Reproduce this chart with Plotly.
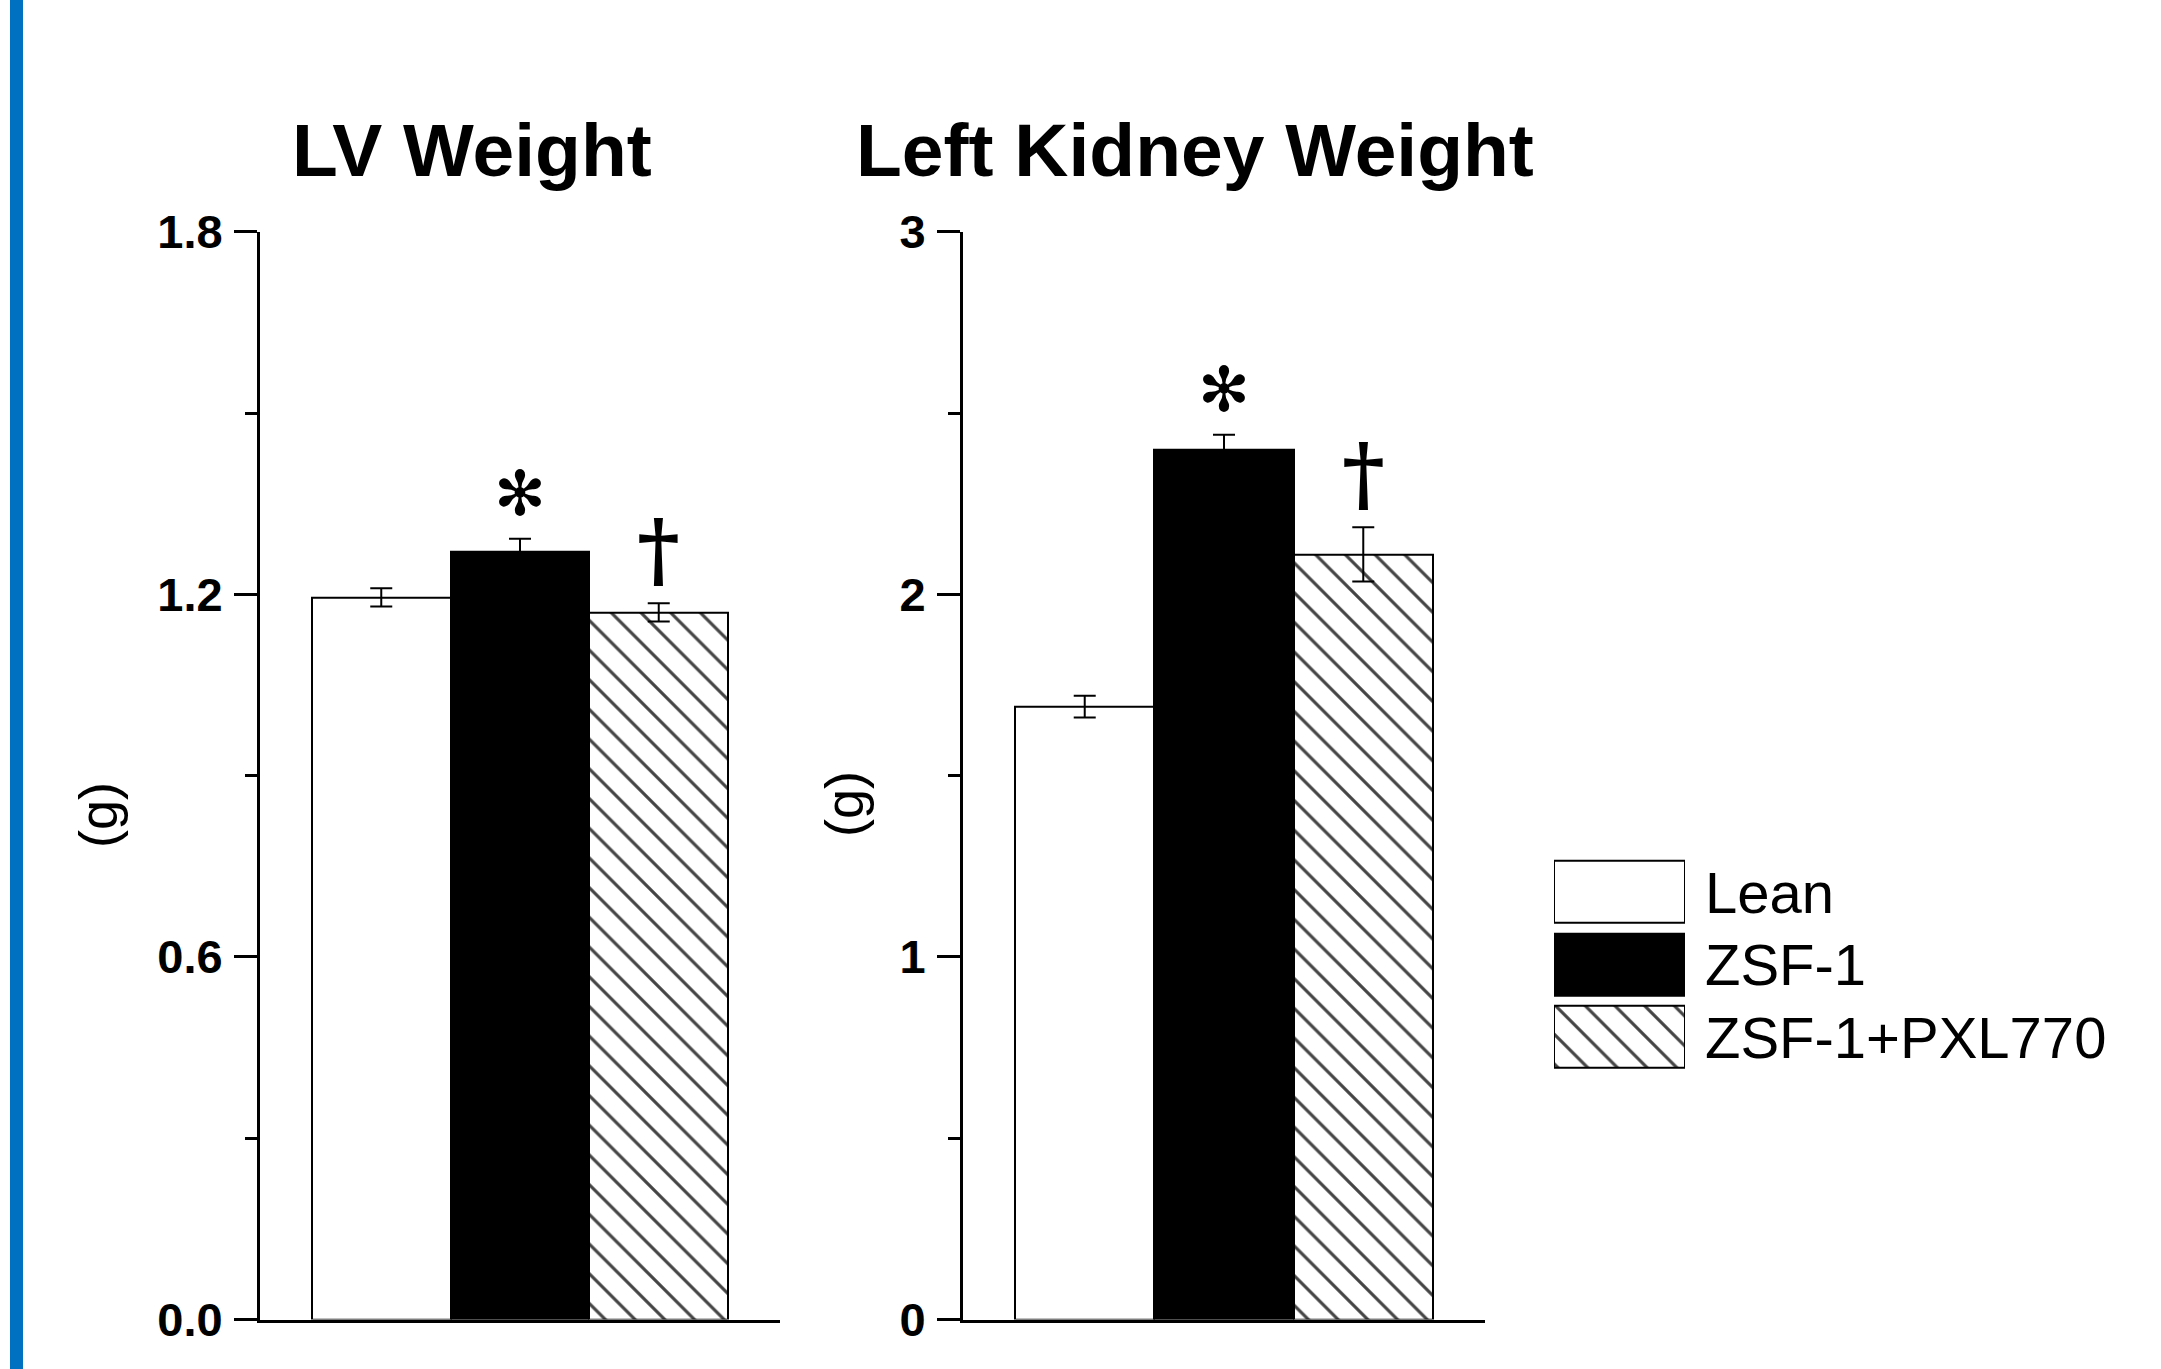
import plotly.graph_objects as go

W, H = 2161, 1369

# ---------------- data ----------------
groups = ["Lean", "ZSF-1", "ZSF-1+PXL770"]
lv_mean = [1.195, 1.27, 1.17]
lv_sem = [0.015, 0.022, 0.015]
kid_mean = [1.69, 2.40, 2.11]
kid_sem = [0.03, 0.04, 0.075]
lv_tickvals = [0, 0.6, 1.2, 1.8]
lv_ticktext = ["0.0", "0.6", "1.2", "1.8"]
kid_tickvals = [0, 1, 2, 3]
kid_ticktext = ["0", "1", "2", "3"]
sig_star = ["", "✻", ""]
sig_dagger = ["", "", "†"]
titles = ["LV Weight", "Left Kidney Weight"]
y_title = "(g)"

# ---------------- style ----------------
fills = ["white", "black", "white"]
patterns = ["", "", "\\"]
FONT = "Liberation Sans"


def px(x):
    return x / W


def py(y):
    return 1 - y / H


marker = dict(
    color=fills,
    line=dict(color="black", width=2),
    pattern=dict(shape=patterns, fgcolor="black", fgopacity=1, size=21, solidity=0.15),
)

fig = go.Figure()
fig.add_trace(go.Bar(
    x=groups, y=lv_mean, marker=marker, xaxis="x", yaxis="y",
    error_y=dict(type="data", array=lv_sem, visible=True, thickness=2, width=11, color="black"),
    showlegend=False,
))
fig.add_trace(go.Bar(
    x=groups, y=kid_mean, marker=marker, xaxis="x2", yaxis="y2",
    error_y=dict(type="data", array=kid_sem, visible=True, thickness=2, width=11, color="black"),
    showlegend=False,
))
# legend swatches drawn as horizontal bars on a hidden axis
fig.add_trace(go.Bar(
    x=[1, 1, 1], y=groups, orientation="h", marker=marker, width=[0.855] * 3,
    xaxis="x3", yaxis="y3", showlegend=False, cliponaxis=False, hoverinfo="skip",
))

y_dom = [py(1319.5), py(231.7)]
xr = [-0.874, 2.874]

common_x = dict(showline=True, linecolor="black", linewidth=3, ticks="", showticklabels=False,
                showgrid=False, zeroline=False, range=xr, fixedrange=True, automargin=False)
common_y = dict(showline=True, linecolor="black", linewidth=3, ticks="outside", ticklen=23,
                tickwidth=3, tickcolor="black", showgrid=False, zeroline=False, automargin=False,
                tickfont=dict(family=FONT, size=47, color="black", weight="bold"),
                ticklabelstandoff=2)

fig.update_layout(
    width=W, height=H, autosize=False, margin=dict(l=0, r=0, t=0, b=0, pad=0),
    paper_bgcolor="white", plot_bgcolor="white", showlegend=False,
    bargap=0, barmode="group",
    xaxis=dict(domain=[px(260), px(780)], anchor="y", **common_x),
    yaxis=dict(domain=y_dom, anchor="x", range=[0, 1.8], tickvals=lv_tickvals, ticktext=lv_ticktext,
               minor=dict(ticks="outside", ticklen=12, tickwidth=3, tickcolor="black", dtick=0.3, tick0=0),
               **common_y),
    xaxis2=dict(domain=[px(963), px(1485)], anchor="y2", **common_x),
    yaxis2=dict(domain=y_dom, anchor="x2", range=[0, 3], tickvals=kid_tickvals, ticktext=kid_ticktext,
                minor=dict(ticks="outside", ticklen=12, tickwidth=3, tickcolor="black", dtick=0.5, tick0=0),
                **common_y),
    xaxis3=dict(domain=[px(1554), px(1685)], anchor="y3", range=[0, 1], visible=False,
                fixedrange=True, automargin=False),
    yaxis3=dict(domain=[py(1073.25), py(855.75)], anchor="x3", visible=False, autorange="reversed",
                categoryorder="array", categoryarray=groups, fixedrange=True, automargin=False),
    shapes=[dict(type="rect", xref="paper", yref="paper", x0=px(10), x1=px(23), y0=0, y1=1,
                 fillcolor="#0070C0", line=dict(width=0), layer="below")],
)

ann = []
# panel titles
for t, cx in zip(titles, [471.5, 1195]):
    ann.append(dict(text=t, x=px(cx), y=py(150), xref="paper", yref="paper", xanchor="center",
                    yanchor="middle", showarrow=False,
                    font=dict(family=FONT, size=75, color="black", weight="bold")))
# y titles
for cx, cy in [(98, 815), (844, 804)]:
    ann.append(dict(text=y_title, x=px(cx), y=py(cy), xref="paper", yref="paper", xanchor="center",
                    yanchor="middle", showarrow=False, textangle=-90,
                    font=dict(family=FONT, size=54, color="black")))
# significance marks
for xa, ya, means, sems in [("x", "y", lv_mean, lv_sem), ("x2", "y2", kid_mean, kid_sem)]:
    for g, m, s, st, dg in zip(groups, means, sems, sig_star, sig_dagger):
        if st:
            ann.append(dict(text=st, x=g, y=m + s, xref=xa, yref=ya, xanchor="center", yanchor="middle",
                            yshift=45, showarrow=False,
                            font=dict(family="DejaVu Sans", size=62, color="black")))
        if dg:
            ann.append(dict(text=dg, x=g, y=m + s, xref=xa, yref=ya, xanchor="center", yanchor="middle",
                            yshift=54, showarrow=False,
                            font=dict(family="DejaVu Serif", size=82, color="black", weight="bold")))
# legend labels
for g, cy in zip(groups, [892, 964.5, 1037]):
    ann.append(dict(text=g, x=px(1703), y=py(cy), xref="paper", yref="paper", xanchor="left",
                    yanchor="middle", showarrow=False,
                    font=dict(family=FONT, size=58, color="black")))
fig.update_layout(annotations=ann)

fig.write_html("out.html")
